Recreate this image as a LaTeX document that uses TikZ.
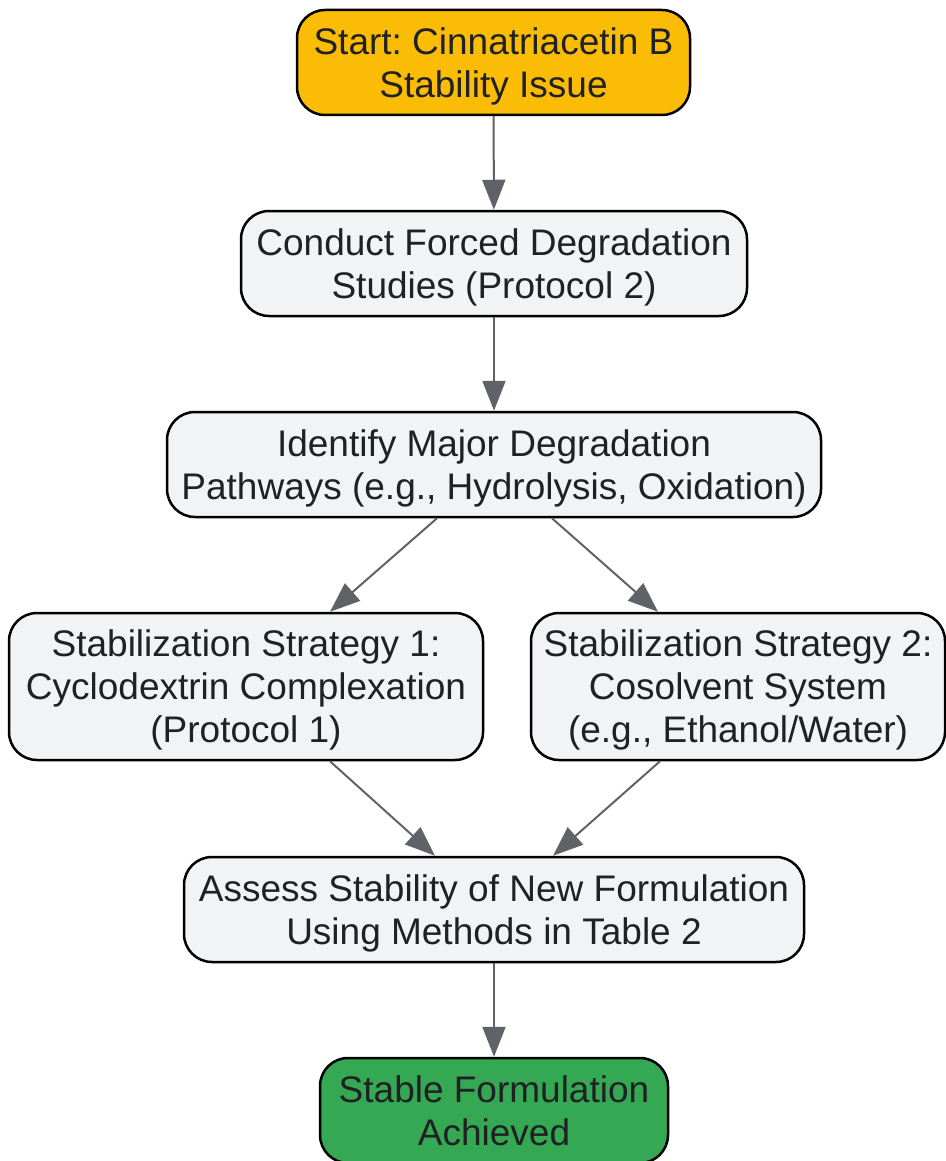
\documentclass[tikz,border=0pt]{standalone}
\usepackage{fontspec}
\setmainfont{Liberation Sans}
\usetikzlibrary{arrows.meta}
\definecolor{boxgray}{HTML}{F1F3F4}
\definecolor{startyellow}{HTML}{FBBC05}
\definecolor{endgreen}{HTML}{34A853}
\definecolor{linegray}{HTML}{5F6368}
\definecolor{txt}{HTML}{202124}
\frenchspacing
\begin{document}
\begin{tikzpicture}[x=1pt,y=-1pt,
		stepbox/.style={draw=black, line width=2.5pt, rounded corners=28pt, fill=boxgray,
			align=center, text=txt, inner sep=0pt, minimum height=105pt, text depth=-8pt,
			font=\fontsize{37}{43}\selectfont},
		flow/.style={draw=linegray, line width=2pt, -{Triangle[length=30pt,width=23pt]}}]
		\useasboundingbox (0,0) rectangle (945,1161);
		% boxes
		\node[stepbox, fill=startyellow, minimum width=393pt] (start) at (493.5,62.5) {Start: Cinnatriacetin B\\Stability Issue};
		\node[stepbox, minimum width=506pt] (forced) at (494,263.5) {Conduct Forced Degradation\\Studies (Protocol 2)};
		\node[stepbox, minimum width=654pt] (paths) at (494,464.5) {Identify Major Degradation\\Pathways (e.g., Hydrolysis, Oxidation)};
		\node[stepbox, minimum width=474pt, minimum height=147pt] (strat1) at (246,686.5) {Stabilization Strategy 1:\\Cyclodextrin Complexation\\(Protocol 1)};
		\node[stepbox, minimum width=414pt, minimum height=147pt] (strat2) at (738,686.5) {Stabilization Strategy 2:\\Cosolvent System\\(e.g., Ethanol/Water)};
		\node[stepbox, minimum width=620pt] (assess) at (494,909.5) {Assess Stability of New Formulation\\Using Methods in Table 2};
		\node[stepbox, fill=endgreen, minimum width=348pt] (stable) at (494,1110.5) {Stable Formulation\\Achieved};
		% arrows
		\draw[flow] (start) -- (forced);
		\draw[flow] (forced) -- (paths);
		\draw[flow] ([xshift=-57pt]paths.south) -- ([xshift=84pt]strat1.north);
		\draw[flow] ([xshift=58pt]paths.south) -- ([xshift=-80pt]strat2.north);
		\draw[flow] ([xshift=84pt]strat1.south) -- ([xshift=-59pt]assess.north);
		\draw[flow] ([xshift=-78pt]strat2.south) -- ([xshift=59pt]assess.north);
		\draw[flow] (assess) -- (stable);
	\end{tikzpicture}
\end{document}
